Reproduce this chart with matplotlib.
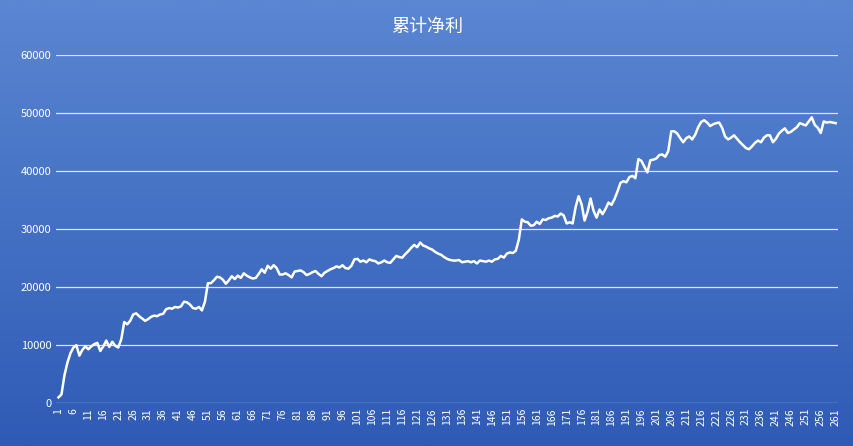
import numpy as np
import matplotlib.pyplot as plt
from matplotlib.colors import LinearSegmentedColormap

plt.rcParams['font.family'] = ['Noto Sans CJK SC', 'DejaVu Sans']

title = '累计净利'
profit = [
    1000, 1500, 4800, 7000, 8600, 9600, 10000, 8200, 9200, 9800,
    9300, 9800, 10200, 10400, 9000, 9800, 10800, 9700, 10600, 9900,
    9600, 11000, 14000, 13600, 14200, 15300, 15500, 15000, 14600, 14200,
    14500, 14900, 15100, 15000, 15300, 15400, 16200, 16400, 16300, 16600,
    16500, 16700, 17500, 17400, 17000, 16400, 16300, 16600, 16000, 17500,
    20700, 20700, 21200, 21800, 21700, 21300, 20600, 21200, 21900, 21400,
    22000, 21600, 22400, 22000, 21700, 21500, 21600, 22300, 23100, 22500,
    23700, 23200, 23800, 23300, 22200, 22200, 22400, 22100, 21700, 22700,
    22800, 22900, 22600, 22100, 22300, 22600, 22800, 22300, 21900, 22500,
    22800, 23100, 23300, 23600, 23400, 23800, 23300, 23200, 23700, 24800,
    24900, 24400, 24600, 24300, 24800, 24600, 24500, 24100, 24300, 24600,
    24300, 24200, 24800, 25400, 25200, 25100, 25700, 26200, 26800, 27300,
    26900, 27700, 27200, 27000, 26700, 26500, 26100, 25800, 25600, 25200,
    24900, 24700, 24600, 24600, 24700, 24300, 24400, 24500, 24300, 24500,
    24100, 24600, 24500, 24400, 24600, 24400, 24800, 24900, 25400, 25100,
    25800, 26000, 25900, 26300, 28200, 31700, 31300, 31200, 30600, 30700,
    31300, 30900, 31700, 31600, 31900, 32000, 32300, 32200, 32700, 32400,
    31000, 31200, 31000, 33800, 35700, 34300, 31500, 33000, 35300, 33200,
    32000, 33400, 32600, 33500, 34600, 34200, 35200, 36500, 38000, 38300,
    38100, 39000, 39200, 38800, 42100, 41800, 40800, 39800, 41900, 42000,
    42200, 42800, 42900, 42500, 43500, 46900, 46900, 46500, 45700, 45000,
    45700, 46000, 45500, 46300, 47600, 48500, 48800, 48400, 47800, 48100,
    48300, 48400, 47500, 46000, 45500, 45800, 46200, 45600, 45000, 44500,
    44000, 43800, 44300, 44900, 45300, 45000, 45800, 46200, 46200, 45000,
    45600, 46500, 47000, 47400, 46600, 46800, 47200, 47600, 48300, 48100,
    47900, 48600, 49300, 48000, 47500, 46600, 48600, 48400, 48500, 48400,
    48300,
]
days = list(range(1, len(profit) + 1))
yticks = [0, 10000, 20000, 30000, 40000, 50000, 60000]

fig = plt.figure(figsize=(8.54, 4.46), dpi=100)

# gradient background over the whole figure
bg = fig.add_axes([0, 0, 1, 1])
cmap = LinearSegmentedColormap.from_list('bg', ['#5a86d2', '#2f5bb6'])
bg.imshow(np.linspace(0, 1, 256).reshape(-1, 1), aspect='auto', cmap=cmap,
          extent=[0, 1, 0, 1])
bg.axis('off')

ax = fig.add_axes([0.066, 0.096, 0.915, 0.78])
ax.patch.set_alpha(0)
ax.plot(days, profit, color='white', lw=1.8)
ax.set_xlim(0.3, len(profit) + 0.7)
ax.set_ylim(0, 60000)
ax.set_yticks(yticks)
ax.set_xticks(days[::5])
ax.tick_params(axis='x', labelrotation=90, colors='white', labelsize=7.5, length=0)
ax.tick_params(axis='y', colors='white', labelsize=8, length=0)
ax.grid(axis='y', color='#dfe7f5', lw=0.9)
ax.set_axisbelow(True)
for s in ax.spines.values():
    s.set_visible(False)

fig.text(0.5, 0.94, title, color='white', fontsize=13, ha='center', va='center')

fig.savefig('out.png', dpi=100)
